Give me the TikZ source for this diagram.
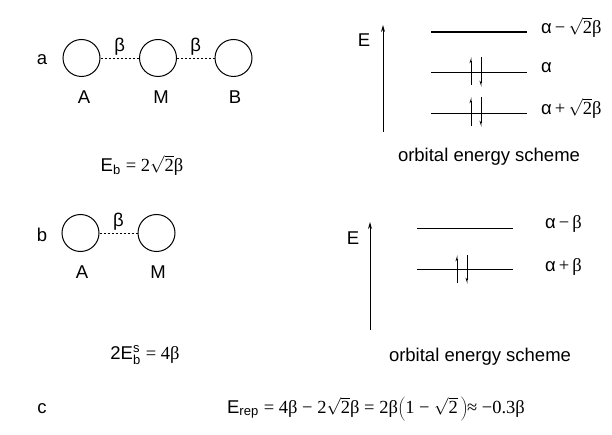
\documentclass[tikz,border=0pt]{standalone}
\usepackage{fontspec}
\setmainfont{Liberation Sans}
\newfontfamily\serif{Liberation Serif}
\usetikzlibrary{arrows.meta}
\newcommand{\sbx}[1]{$_{\hbox{\fontsize{13}{14}\selectfont #1}}$}
\newcommand{\sspx}[2]{$^{\hbox{\fontsize{13}{14}\selectfont #1}}_{\hbox{\fontsize{13}{14}\selectfont #2}}$}
\newcommand{\rtx}[1]{$\sqrt{\hbox{\serif #1}}$}
\begin{document}
\begin{tikzpicture}[x=1pt,y=-1pt,font=\fontsize{18.5}{21}\selectfont,
  atom/.style={circle,draw,line width=1pt,minimum size=37pt,inner sep=0pt},
  bond/.style={line width=0.8pt,dash pattern=on 2pt off 2pt},
  lvl/.style={line width=0.9pt},
  toplvl/.style={line width=1.8pt},
  axisline/.style={line width=1pt,-{Stealth[length=7pt,width=4pt]}},
  spinup/.style={line width=0.8pt,-{Stealth[harpoon,length=5pt,width=3pt]}},
  spindn/.style={line width=0.8pt,-{Stealth[harpoon,swap,length=5pt,width=3pt]}},
  txt/.style={inner sep=0pt},
  lbl/.style={inner sep=0pt,anchor=west}]
\useasboundingbox (0,0) rectangle (612,435);
% ---- panel a
\node[txt] (la) at (42,60) {a};
\node[atom] (A1) at (81.5,58) {};
\node[atom] (M1) at (158,58) {};
\node[atom] (B1) at (233.5,58) {};
\draw[bond] (A1) -- (M1) node[midway,above=2pt,inner sep=0pt] (b1) {β};
\draw[bond] (M1) -- (B1) node[midway,above=2pt,inner sep=0pt] (b2) {β};
\node[txt] (tA1) at (84,97) {A};
\node[txt] (tM1) at (161,97) {M};
\node[txt] (tB1) at (235,97) {B};
\node[txt] (Eb) at (142,165) {E\sbx{b} {\serif = 2}\rtx{2}{\serif β}};
% energy a
\node[txt] (Ea) at (364,40) {E};
\coordinate (axa0) at (383,132);
\coordinate (axa1) at (383,25);
\draw[axisline] (axa0) -- (axa1);
\coordinate (l1a) at (431,32); \coordinate (l1b) at (527,32);
\coordinate (l2a) at (431,72); \coordinate (l2b) at (527,72);
\coordinate (l3a) at (431,113); \coordinate (l3b) at (527,113);
\draw[toplvl] (l1a) -- (l1b);
\draw[lvl] (l2a) -- (l2b);
\draw[lvl] (l3a) -- (l3b);
\node[lbl] (La1) at (541,27) {α\,{\serif −}\,\rtx{2}{\serif β}};
\node[lbl] (La2) at (541,68) {α};
\node[lbl] (La3) at (541,108) {α\,{\serif +}\,\rtx{2}{\serif β}};
\coordinate (s1a) at (471,85); \coordinate (s1b) at (471,57);
\coordinate (s2a) at (481,57); \coordinate (s2b) at (481,87);
\coordinate (s3a) at (471,126); \coordinate (s3b) at (471,97);
\coordinate (s4a) at (481,97); \coordinate (s4b) at (481,127);
\draw[spinup] (s1a) -- (s1b);
\draw[spindn] (s2a) -- (s2b);
\draw[spinup] (s3a) -- (s3b);
\draw[spindn] (s4a) -- (s4b);
\node[txt] (oa) at (489,157) {orbital energy scheme};
% ---- panel b
\node[txt] (lb) at (42,235) {b};
\node[atom] (A2) at (80.5,233) {};
\node[atom] (M2) at (156.5,233) {};
\draw[bond] (A2) -- (M2) node[midway,above=2pt,inner sep=0pt] (b3) {β};
\node[txt] (tA2) at (82,272) {A};
\node[txt] (tM2) at (158,272) {M};
\node[txt] (Es) at (145,355) {2E\sspx{s}{b} {\serif = 4β}};
% energy b
\node[txt] (Eb2) at (353,238) {E};
\coordinate (axb0) at (370,330);
\coordinate (axb1) at (370,222);
\draw[axisline] (axb0) -- (axb1);
\coordinate (m1a) at (417,228); \coordinate (m1b) at (513,228);
\coordinate (m2a) at (417,269); \coordinate (m2b) at (513,269);
\draw[lvl] (m1a) -- (m1b);
\draw[lvl] (m2a) -- (m2b);
\node[lbl] (Lb1) at (545,224) {α\,{\serif −}\,{\serif β}};
\node[lbl] (Lb2) at (545,267) {α\,{\serif +}\,{\serif β}};
\coordinate (t1a) at (457,283); \coordinate (t1b) at (457,255);
\coordinate (t2a) at (467,255); \coordinate (t2b) at (467,284);
\draw[spinup] (t1a) -- (t1b);
\draw[spindn] (t2a) -- (t2b);
\node[txt] (ob) at (480,357) {orbital energy scheme};
% ---- panel c
\node[txt] (lc) at (42,409) {c};
\node[txt] (Er) at (376,409) {E\sbx{rep} {\serif = 4β − 2}\rtx{2}{\serif β = 2β}$\left(\hbox{\serif 1 − }\sqrt{\hbox{\serif 2}}\,\right)$\hspace{-1pt}{\serif ≈ −0.3β}};
\end{tikzpicture}
\end{document}
